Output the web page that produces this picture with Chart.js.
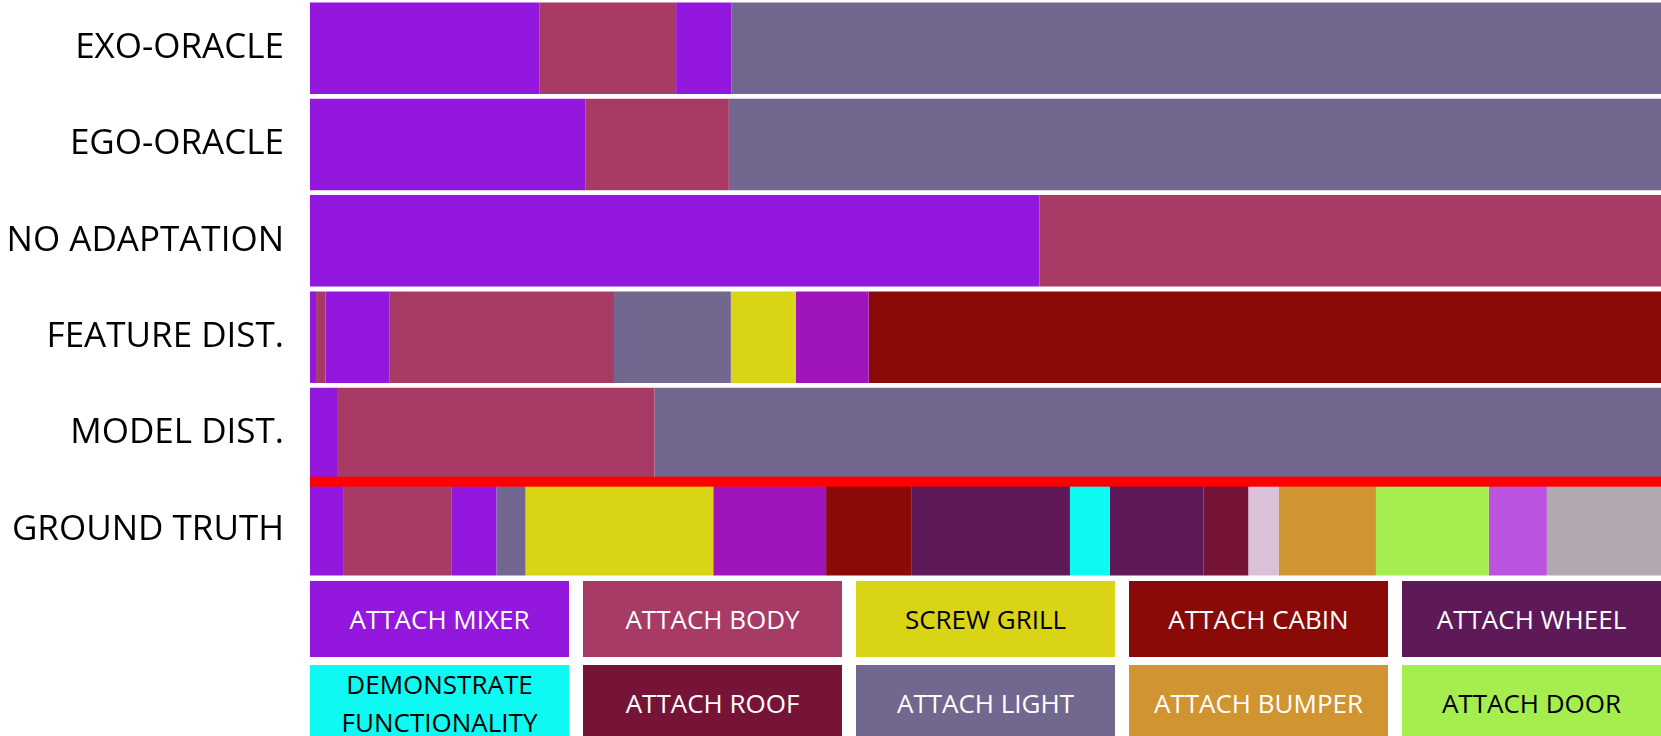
<!DOCTYPE html>
<html>
<head>
<meta charset="utf-8">
<script src="https://cdn.jsdelivr.net/npm/chart.js@4.4.0/dist/chart.umd.min.js"></script>
<style>
  body { margin: 0; background: #fff; overflow: hidden; width: 1661px; height: 736px; position: relative; }
  #seg { position: absolute; left: 0; top: 0; }
  #legend {
    position: absolute; left: 310px; top: 581px; width: 1351px;
    display: grid; grid-template-columns: repeat(5, 1fr); column-gap: 14px; row-gap: 8px;
    font-family: "Open Sans", sans-serif;
  }
  .key {
    height: 76px; display: flex; align-items: center; justify-content: center;
    text-align: center; font-size: 26px; line-height: 38px;
  }
</style>
</head>
<body>
<canvas id="seg" width="1661" height="578"></canvas>
<div id="legend"></div>
<script>
// rows, top to bottom
const rowLabels = ["EXO-ORACLE", "EGO-ORACLE", "NO ADAPTATION", "FEATURE DIST.", "MODEL DIST.", "GROUND TRUTH"];

// segment actions and lengths (% of the sequence) per row
const exoActs = ["mixer", "body", "mixer", "light"];
const exoDur = [17.0, 10.1, 4.1, 68.8];
const egoActs = ["mixer", "body", "light"];
const egoDur = [20.4, 10.6, 69.0];
const noAdaptActs = ["mixer", "body"];
const noAdaptDur = [54.0, 46.0];
const featActs = ["mixer", "body", "mixer", "body", "light", "grill", "extra1", "cabin"];
const featDur = [0.45, 0.7, 4.75, 16.6, 8.65, 4.8, 5.4, 58.65];
const modelActs = ["mixer", "body", "light"];
const modelDur = [2.0, 23.5, 74.5];
const truthActs = ["mixer", "body", "mixer", "light", "grill", "extra1", "cabin", "wheel",
  "demo", "wheel", "roof", "extra2", "bumper", "door", "extra3", "extra4"];
const truthDur = [2.45, 8.05, 3.3, 2.15, 13.9, 8.35, 6.3, 11.75, 2.95, 6.95, 3.3, 2.25, 7.2, 8.35, 4.3, 8.45];

const actColors = {
  mixer: "#9317dd", body: "#a83a66", grill: "#d9d416", cabin: "#8a0a08", wheel: "#5e1a58",
  demo: "#0ef9f2", roof: "#761438", light: "#72678f", bumper: "#d09530", door: "#a6ee50",
  extra1: "#a014bc", extra2: "#dbc0da", extra3: "#bb52e0", extra4: "#b2a8b0"
};

// legend boxes
const legendLabels = ["ATTACH MIXER", "ATTACH BODY", "SCREW GRILL", "ATTACH CABIN", "ATTACH WHEEL",
  "DEMONSTRATE FUNCTIONALITY", "ATTACH ROOF", "ATTACH LIGHT", "ATTACH BUMPER", "ATTACH DOOR"];
const legendActs = ["mixer", "body", "grill", "cabin", "wheel", "demo", "roof", "light", "bumper", "door"];
const legendDark = ["grill", "demo", "door"];

const rows = [
  [exoActs, exoDur], [egoActs, egoDur], [noAdaptActs, noAdaptDur],
  [featActs, featDur], [modelActs, modelDur], [truthActs, truthDur]
];
const maxSegs = Math.max(...rows.map(r => r[0].length));

const datasets = [];
for (let i = 0; i < maxSegs; i++) {
  datasets.push({
    data: rows.map(r => r[1][i] ?? null),
    backgroundColor: rows.map(r => actColors[r[0][i]] || "#fff"),
    borderWidth: 0,
    barPercentage: 0.95,
    categoryPercentage: 1
  });
}

// red separator above the ground truth row
const separator = {
  id: "separator",
  afterDatasetsDraw(chart) {
    const y = chart.scales.y;
    const mid = (y.getPixelForValue(4) + y.getPixelForValue(5)) / 2;
    const ctx = chart.ctx;
    ctx.save();
    ctx.fillStyle = "#ff0000";
    ctx.fillRect(chart.chartArea.left, mid - 5, chart.chartArea.right - chart.chartArea.left, 10);
    ctx.restore();
  }
};

new Chart(document.getElementById("seg"), {
  type: "bar",
  data: { labels: rowLabels, datasets },
  options: {
    indexAxis: "y",
    responsive: false,
    animation: false,
    devicePixelRatio: 1,
    layout: { padding: 0 },
    plugins: { legend: { display: false }, tooltip: { enabled: false } },
    scales: {
      x: { stacked: true, min: 0, max: 100, display: false },
      y: {
        stacked: true,
        grid: { display: false },
        border: { display: false },
        afterFit: s => {
          // fixed label column, no extra space above/below the rows
          s.width = 310;
          s.paddingTop = 0;
          s.paddingBottom = 0;
        },
        ticks: { color: "#000", padding: 18, font: { family: "Open Sans", size: 35 } }
      }
    }
  },
  plugins: [separator]
});

const legend = document.getElementById("legend");
legendLabels.forEach((name, i) => {
  const box = document.createElement("div");
  box.className = "key";
  box.style.background = actColors[legendActs[i]];
  box.style.color = legendDark.includes(legendActs[i]) ? "#000" : "#fff";
  if (name.startsWith("DEMONSTRATE")) box.innerHTML = name.replace(" ", "<br>");
  else box.textContent = name;
  legend.appendChild(box);
});
</script>
</body>
</html>
